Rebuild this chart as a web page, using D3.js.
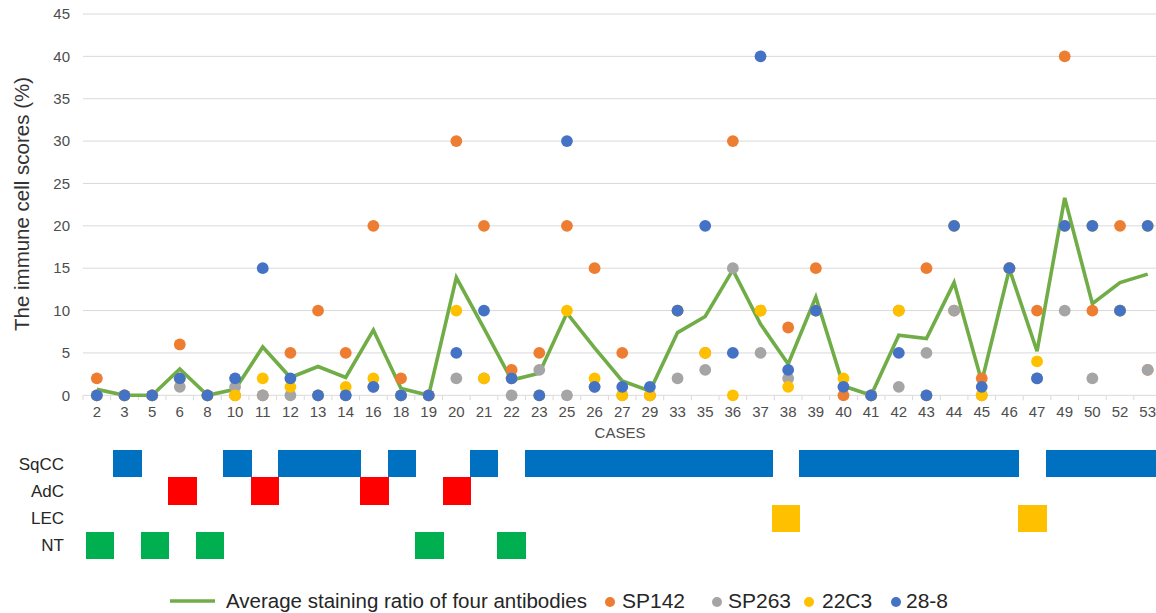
<!DOCTYPE html>
<html>
<head>
<meta charset="utf-8">
<script src="https://cdn.jsdelivr.net/npm/d3@7/dist/d3.min.js"></script>
<style>
  html, body { margin: 0; padding: 0; background: #fff; }
  svg { display: block; font-family: "Liberation Sans", Arial, sans-serif; }
</style>
</head>
<body>
<svg id="chart" width="1156" height="613"></svg>
<script>
// ---- data ----
const cases = [2,3,5,6,8,10,11,12,13,14,16,18,19,20,21,22,23,25,26,27,29,33,35,36,37,38,39,40,41,42,43,44,45,46,47,49,50,52,53];
const sp142 = [2,0,0,6,0,0,0,5,10,5,20,2,0,30,20,3,5,20,15,5,0,10,5,30,10,8,15,0,0,10,15,10,2,15,10,40,10,20,3];
const sp263 = [0,0,0,1,0,1,0,0,0,0,1,0,0,2,2,0,3,0,1,0,0,2,3,15,5,2,10,1,0,1,5,10,0,15,2,10,2,10,3];
const c22c3 = [0,0,0,2,0,0,2,1,0,1,2,0,0,10,2,2,0,10,2,0,0,10,5,0,10,1,10,2,0,10,0,20,0,15,4,20,20,10,20];
const c288  = [0,0,0,2,0,2,15,2,0,0,1,0,0,5,10,2,0,30,1,1,1,10,20,5,40,3,10,1,0,5,0,20,1,15,2,20,20,10,20];
const average = [0.7,0,0,3.1,0,0.7,5.7,2.1,3.4,2.1,7.7,0.8,0,13.9,7.9,1.8,2.6,9.7,5.6,1.7,0.5,7.4,9.3,14.8,8.4,3.7,11.6,1.1,0,7.1,6.7,13.3,1.6,14.9,5.2,23.3,10.8,13.3,14.3];
const yTicks = [0,5,10,15,20,25,30,35,40,45];
const histRows = ["SqCC","AdC","LEC","NT"];
const histology = [ // histology per case, same order as cases
  "NT","SqCC","NT","AdC","NT","SqCC","AdC","SqCC","SqCC","SqCC","AdC","SqCC","NT","AdC","SqCC","NT",
  "SqCC","SqCC","SqCC","SqCC","SqCC","SqCC","SqCC","SqCC","SqCC","LEC",
  "SqCC","SqCC","SqCC","SqCC","SqCC","SqCC","SqCC","SqCC","LEC","SqCC","SqCC","SqCC","SqCC"];
const seriesNames = ["SP142","SP263","22C3","28-8"];
const lineName = "Average staining ratio of four antibodies";

// ---- styles ----
const dotColors = {"SP142":"#ED7D31","SP263":"#A5A5A5","22C3":"#FFC000","28-8":"#4472C4"};
const histColors = {"SqCC":"#0070C0","AdC":"#FF0000","LEC":"#FFC000","NT":"#00B050"};
const lineColor = "#70AD47";
const textColor = "#4D4D4D";

const svg = d3.select("#chart");
const x = d3.scaleBand().domain(cases).range([83, 1161.5]).padding(0);
const y = d3.scaleLinear().domain([0,45]).range([395.3, 14]);
const cx = d => x(d) + x.bandwidth()/2;

// gridlines
svg.append("g").selectAll("line").data(yTicks).join("line")
  .attr("x1", 83).attr("x2", 1161.5)
  .attr("y1", d => y(d)).attr("y2", d => y(d))
  .attr("stroke", "#D9D9D9").attr("stroke-width", 1);

// y tick labels
svg.append("g").selectAll("text").data(yTicks).join("text")
  .attr("x", 70).attr("y", d => y(d)).attr("dy", "0.35em")
  .attr("text-anchor", "end").attr("font-size", 15).attr("fill", textColor)
  .text(d => d);

// x axis tick marks at band boundaries
const bounds = cases.map(c => x(c)).concat([x(cases[cases.length-1]) + x.bandwidth()]);
svg.append("g").selectAll("line").data(bounds).join("line")
  .attr("x1", d => d).attr("x2", d => d)
  .attr("y1", y(0)).attr("y2", y(0) + 5)
  .attr("stroke", "#D9D9D9").attr("stroke-width", 1);

// x tick labels
svg.append("g").selectAll("text").data(cases).join("text")
  .attr("x", d => cx(d)).attr("y", 412).attr("dy", "0.35em")
  .attr("text-anchor", "middle").attr("font-size", 15).attr("fill", textColor)
  .text(d => d);

// axis titles
svg.append("text").attr("x", 620).attr("y", 433).attr("dy", "0.35em")
  .attr("text-anchor", "middle").attr("font-size", 15).attr("fill", textColor)
  .text("CASES");
svg.append("text")
  .attr("transform", "translate(29,204) rotate(-90)")
  .attr("text-anchor", "middle").attr("font-size", 20.5).attr("fill", "#333333")
  .text("The immune cell scores (%)");

// average line (drawn below dots)
const line = d3.line().x((d,i) => cx(cases[i])).y(d => y(d));
svg.append("path").datum(average)
  .attr("d", line).attr("fill", "none")
  .attr("stroke", lineColor).attr("stroke-width", 3.6)
  .attr("stroke-linejoin", "miter");

// dots
const seriesData = [sp142, sp263, c22c3, c288];
seriesNames.forEach((name, si) => {
  svg.append("g").selectAll("circle").data(seriesData[si]).join("circle")
    .attr("cx", (d,i) => cx(cases[i])).attr("cy", d => y(d))
    .attr("r", 5.9).attr("fill", dotColors[name]);
});

// histology grid
const tx = d3.scaleBand().domain(cases).range([86, 1155.5]).padding(0);
const ry = d3.scaleBand().domain(histRows).range([450, 559]).padding(0);
svg.append("g").selectAll("text").data(histRows).join("text")
  .attr("x", 64).attr("y", d => ry(d) + ry.bandwidth()/2).attr("dy", "0.35em")
  .attr("text-anchor", "end").attr("font-size", 17).attr("fill", "#262626")
  .text(d => d);
svg.append("g").attr("shape-rendering", "crispEdges")
  .selectAll("rect").data(cases).join("rect")
  .attr("x", d => tx(d)).attr("width", tx.bandwidth() + 1)
  .attr("y", (d,i) => ry(histology[i])).attr("height", ry.bandwidth())
  .attr("fill", (d,i) => histColors[histology[i]]);

// legend
const lg = svg.append("g");
lg.append("line").attr("x1", 170).attr("x2", 215).attr("y1", 601).attr("y2", 601)
  .attr("stroke", lineColor).attr("stroke-width", 3.5);
lg.append("text").attr("x", 226).attr("y", 601).attr("dy", "0.35em")
  .attr("font-size", 20.5).attr("fill", "#262626").text(lineName);
const legendDots = [610, 717, 809, 896];
const legendTexts = [622, 728, 822, 906];
seriesNames.forEach((name, i) => {
  lg.append("circle").attr("cx", legendDots[i]).attr("cy", 602).attr("r", 5)
    .attr("fill", dotColors[name]);
  lg.append("text").attr("x", legendTexts[i]).attr("y", 601).attr("dy", "0.35em")
    .attr("font-size", 21).attr("fill", "#262626").text(name);
});
</script>
</body>
</html>
